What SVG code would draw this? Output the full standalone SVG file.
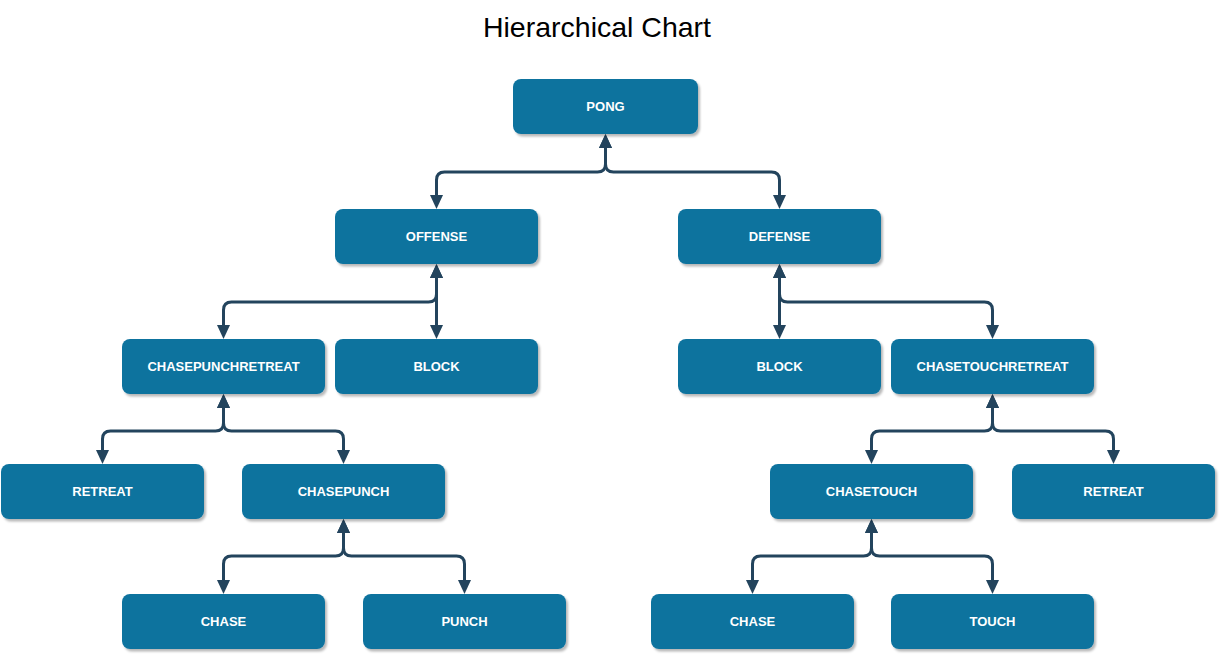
<svg xmlns="http://www.w3.org/2000/svg" width="1222" height="656" viewBox="0 0 1222 656">
<style>
.box{fill:#10739E;filter:url(#sh)}
.lbl{fill:#FFFFFF;font-family:"Liberation Sans",Arial,Helvetica,sans-serif;font-weight:bold;font-size:13px;text-anchor:middle}
.title{fill:#000000;font-family:"Liberation Sans",Arial,Helvetica,sans-serif;font-size:28.5px;text-anchor:middle}
.edge{fill:none;stroke:#23445D;stroke-width:3;marker-start:url(#arr);marker-end:url(#arr)}
</style>
<defs>
<filter id="sh" x="-10%" y="-20%" width="130%" height="150%">
<feDropShadow dx="2" dy="2.5" stdDeviation="1.2" flood-color="#000000" flood-opacity="0.28"/>
</filter>
<marker id="arr" viewBox="0 0 14 13" markerWidth="14" markerHeight="13" refX="4" refY="6.5" orient="auto-start-reverse" markerUnits="userSpaceOnUse">
<path d="M0,0 L14,6.5 L0,13 z" fill="#23445D"/>
</marker>
</defs>
<rect width="1222" height="656" fill="#FFFFFF"/>
<text class="title" x="597" y="37">Hierarchical Chart</text>

<g id="connectors">
<path class="edge" d="M605.5,144 V164 Q605.5,172 597.5,172 H444.5 Q436.5,172 436.5,180 V199"/>
<path class="edge" d="M605.5,144 V164 Q605.5,172 613.5,172 H771.5 Q779.5,172 779.5,180 V199"/>
<path class="edge" d="M436.5,274 V294 Q436.5,302 428.5,302 H231.5 Q223.5,302 223.5,310 V329"/>
<path class="edge" d="M436.5,274 V329"/>
<path class="edge" d="M779.5,274 V329"/>
<path class="edge" d="M779.5,274 V294 Q779.5,302 787.5,302 H984.5 Q992.5,302 992.5,310 V329"/>
<path class="edge" d="M223.5,404 V423 Q223.5,431 215.5,431 H110.5 Q102.5,431 102.5,439 V454"/>
<path class="edge" d="M223.5,404 V423 Q223.5,431 231.5,431 H335.5 Q343.5,431 343.5,439 V454"/>
<path class="edge" d="M992.5,404 V423 Q992.5,431 984.5,431 H879.5 Q871.5,431 871.5,439 V454"/>
<path class="edge" d="M992.5,404 V423 Q992.5,431 1000.5,431 H1105.5 Q1113.5,431 1113.5,439 V454"/>
<path class="edge" d="M343.5,529 V548 Q343.5,556 335.5,556 H231.5 Q223.5,556 223.5,564 V584"/>
<path class="edge" d="M343.5,529 V548 Q343.5,556 351.5,556 H456.5 Q464.5,556 464.5,564 V584"/>
<path class="edge" d="M871.5,529 V548 Q871.5,556 863.5,556 H760.5 Q752.5,556 752.5,564 V584"/>
<path class="edge" d="M871.5,529 V548 Q871.5,556 879.5,556 H984.5 Q992.5,556 992.5,564 V584"/>
</g>

<g id="n-pong"><rect class="box" x="513" y="79" width="185" height="55" rx="8"/><text class="lbl" x="605.5" y="111">PONG</text></g>
<g id="n-offense"><rect class="box" x="335" y="209" width="203" height="55" rx="8"/><text class="lbl" x="436.5" y="241">OFFENSE</text></g>
<g id="n-defense"><rect class="box" x="678" y="209" width="203" height="55" rx="8"/><text class="lbl" x="779.5" y="241">DEFENSE</text></g>
<g id="n-chasepunchretreat"><rect class="box" x="122" y="339" width="203" height="55" rx="8"/><text class="lbl" x="223.5" y="371">CHASEPUNCHRETREAT</text></g>
<g id="n-block-left"><rect class="box" x="335" y="339" width="203" height="55" rx="8"/><text class="lbl" x="436.5" y="371">BLOCK</text></g>
<g id="n-block-right"><rect class="box" x="678" y="339" width="203" height="55" rx="8"/><text class="lbl" x="779.5" y="371">BLOCK</text></g>
<g id="n-chasetouchretreat"><rect class="box" x="891" y="339" width="203" height="55" rx="8"/><text class="lbl" x="992.5" y="371">CHASETOUCHRETREAT</text></g>
<g id="n-retreat-left"><rect class="box" x="1" y="464" width="203" height="55" rx="8"/><text class="lbl" x="102.5" y="496">RETREAT</text></g>
<g id="n-chasepunch"><rect class="box" x="242" y="464" width="203" height="55" rx="8"/><text class="lbl" x="343.5" y="496">CHASEPUNCH</text></g>
<g id="n-chasetouch"><rect class="box" x="770" y="464" width="203" height="55" rx="8"/><text class="lbl" x="871.5" y="496">CHASETOUCH</text></g>
<g id="n-retreat-right"><rect class="box" x="1012" y="464" width="203" height="55" rx="8"/><text class="lbl" x="1113.5" y="496">RETREAT</text></g>
<g id="n-chase-left"><rect class="box" x="122" y="594" width="203" height="55" rx="8"/><text class="lbl" x="223.5" y="626">CHASE</text></g>
<g id="n-punch"><rect class="box" x="363" y="594" width="203" height="55" rx="8"/><text class="lbl" x="464.5" y="626">PUNCH</text></g>
<g id="n-chase-right"><rect class="box" x="651" y="594" width="203" height="55" rx="8"/><text class="lbl" x="752.5" y="626">CHASE</text></g>
<g id="n-touch"><rect class="box" x="891" y="594" width="203" height="55" rx="8"/><text class="lbl" x="992.5" y="626">TOUCH</text></g>
</svg>
